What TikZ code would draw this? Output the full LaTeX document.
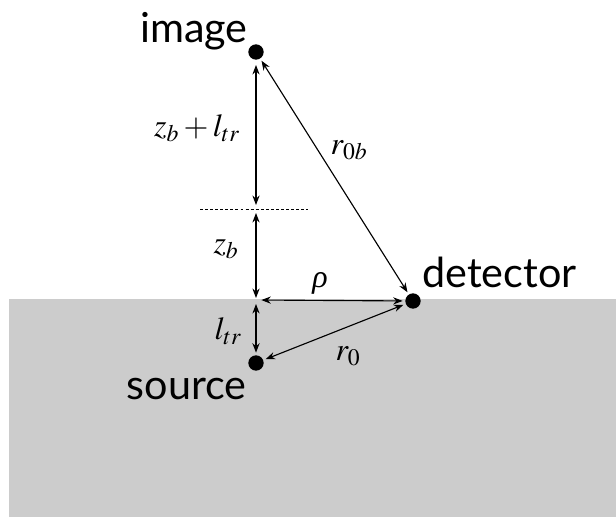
\documentclass[tikz,border=0pt]{standalone}
\usepackage{mathptmx}
\usepackage[no-math]{fontspec}
\newfontfamily\lblfont{Lato}
\newfontfamily\greekit{Liberation Serif}
\usetikzlibrary{arrows.meta,positioning,calc}
\tikzset{
  dimln/.style={{Stealth[length=2.5mm,width=1.9mm]}-{Stealth[length=2.5mm,width=1.9mm]}, line width=0.85pt},
  spot/.style={circle, fill=black, inner sep=0pt, minimum size=11.5pt, outer sep=2pt},
  word/.style={inner sep=0pt, font=\lblfont\fontsize{31}{36}\selectfont},
  sym/.style={inner sep=0pt, font=\fontsize{24}{28}\selectfont},
}
\definecolor{tissue}{RGB}{204,204,204}

\begin{document}
\begin{tikzpicture}[x=0.75pt, y=-0.75pt]
    \useasboundingbox (0,0) rectangle (616,517);
    % medium below the surface
    \fill[tissue] (9,299) rectangle (616,517);
    % sources and detector
    \node[spot] (img) at (256,52) {};
    \node[spot] (det) at (413,301) {};
    \node[spot] (src) at (256,363) {};
    \coordinate (bnd) at (256,209);
    \coordinate (surf) at (256,300);
    % extrapolated boundary
    \draw[dash pattern=on 2.2pt off 1.6pt, line width=0.7pt] (200,209) -- (308,209);
    % distances
    \draw[dimln, shorten <=2pt, shorten >=3pt] (img) -- (bnd);
    \draw[dimln, shorten <=3pt, shorten >=1.5pt] (bnd) -- (surf);
    \draw[dimln, shorten <=3pt] (surf) -- (src);
    \draw[dimln, shorten <=4pt] (surf) -- (det);
    \draw[dimln] (src) -- (det);
    \draw[dimln] (img) -- (det);
    % labels
    \node[word, anchor=base east] (imglbl) at (248,43) {image};
    \node[word, anchor=base west] (detlbl) at (422,287) {detector};
    \node[word, anchor=base east] (srclbl) at (247,399) {source};
    \node[sym] (zl) at (197,128) {$z_b + l_{tr}$};
    \node[sym] (rb) at (349,150) {$r_{0b}$};
    \node[sym] (zb) at (226,249) {$z_b$};
    \node[sym] (rho) at (320,283) {\greekit\itshape ρ};
    \node[sym] (ltr) at (228,331) {$l_{tr}$};
    \node[sym] (r0) at (348,356) {$r_0$};
\end{tikzpicture}
\end{document}
